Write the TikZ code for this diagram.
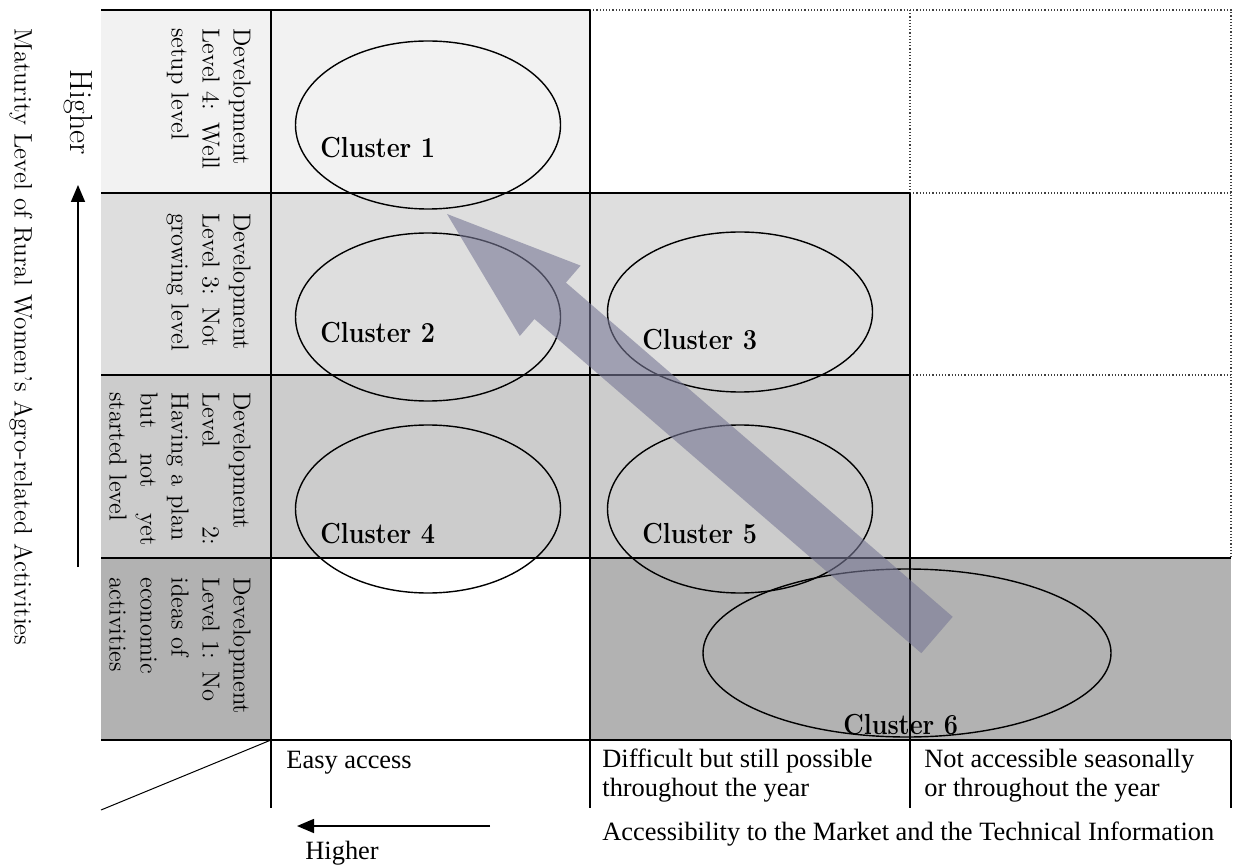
\documentclass[tikz,border=0pt]{standalone}
\usepackage{fontspec}
\newfontfamily\timesfont{Liberation Serif}
\usetikzlibrary{shapes.geometric,arrows.meta}
\definecolor{levelfour}{HTML}{F2F2F2}
\definecolor{levelthree}{HTML}{DEDEDE}
\definecolor{leveltwo}{HTML}{CCCCCC}
\definecolor{levelone}{HTML}{B2B2B2}
\definecolor{arrowfill}{RGB}{120,120,150}
\tikzset{
    gridline/.style={line width=1.2pt},
    dotline/.style={line width=0.6pt, densely dotted, black!75},
    cluster/.style={ellipse, draw, line width=0.7pt, inner sep=0pt, minimum width=132.5pt, minimum height=84pt},
    clusterlabel/.style={font=\bfseries\fontsize{14.5}{17}\selectfont, xscale=0.87, inner sep=0pt, anchor=base west},
    levellabel/.style={rotate=-90, anchor=north west, text width=76.5pt, align=left, inner sep=0pt, font=\fontsize{12.3}{15.5}\selectfont},
    headtext/.style={font=\timesfont\fontsize{13.2}{14.5}\selectfont, inner sep=0pt, align=left},
    axisarrow/.style={line width=0.8pt, -{Triangle[length=8.5pt,width=7pt]}},
    bigarrow/.style={fill=arrowfill, fill opacity=0.6},
}
\begin{document}
\begin{tikzpicture}[x=0.5pt,y=-0.5pt]
        \useasboundingbox (0,0) rectangle (1234,865);
        \fill[levelfour] (101,10) rectangle (590,193);
        \fill[levelthree] (101,193) rectangle (910,375);
        \fill[leveltwo] (101,375) rectangle (910,558);
        \fill[levelone] (101,558) rectangle (271,740);
        \fill[levelone] (590,558) rectangle (1231,740);
        \draw[dotline] (590,10) -- (1231,10) -- (1231,558);
        \draw[dotline] (910,10) -- (910,193);
        \foreach \y in {193,375} {
            \draw[dotline] (910,\y) -- (1231,\y);
            \draw[gridline] (101,\y) -- (910,\y);
        }
        \draw[gridline] (101,10) -- (590,10);
        \draw[gridline] (101,558) -- (1231,558);
        \draw[gridline] (101,740) -- (1231,740);
        \draw[gridline] (271,10) -- (271,808);
        \draw[gridline] (590,10) -- (590,808);
        \draw[gridline] (910,193) -- (910,808);
        \draw[gridline] (1231,740) -- (1231,808);
        \draw[line width=0.5pt] (271,740) -- (101,810);

        \node[cluster] (cl1) at (428,125) {};
        \node[cluster] (cl2) at (428,317) {};
        \node[cluster, minimum height=80pt] (cl3) at (740,312) {};
        \node[cluster] (cl4) at (428,509) {};
        \node[cluster] (cl5) at (740,509) {};
        \node[cluster, minimum width=204pt] (cl6) at (907,653) {};

        \fill[bigarrow] (952.7,616.8) -- (565.9,282.6) -- (580.6,265.6) -- (447,214)
            -- (519.8,336.0) -- (534.5,319.0) -- (921.3,653.2) -- cycle;

        \node[clusterlabel] (lab1) at (320,158) {Cluster 1};
        \node[clusterlabel] (lab2) at (320,343) {Cluster 2};
        \node[clusterlabel] (lab3) at (642,350) {Cluster 3};
        \node[clusterlabel] (lab4) at (320,543) {Cluster 4};
        \node[clusterlabel] (lab5) at (642,543) {Cluster 5};
        \node[clusterlabel] (lab6) at (843,734) {Cluster 6};

        \node[levellabel] (lv4) at (251,28) {Development\\Level 4: Well\\setup level};
        \node[levellabel] (lv3) at (251,213) {Development\\Level 3: Not\\growing level};
        \node[levellabel] (lv2) at (251,392) {Development\\Level\hfill 2:\\Having a plan\\but\hfill not\hfill yet\\started level};
        \node[levellabel] (lv1) at (251,577) {Development\\Level 1: No\\ideas of\\economic\\activities};

        \node[rotate=-90, inner sep=0pt, font=\fontsize{12.6}{15}\selectfont] (maturity) at (21,337) {Maturity Level of Rural Women’s Agro-related Activities};
        \node[rotate=-90, inner sep=0pt, font=\fontsize{16}{18}\selectfont] (vhigher) at (78,112) {Higher};
        \coordinate (vtail) at (78,567);
        \coordinate (vtip) at (78,185);
        \draw[axisarrow] (vtail) -- (vtip);

        \node[headtext, anchor=base west] (easy) at (286,768) {Easy access};
        \node[headtext, anchor=north west] (difficult) at (602,749) {Difficult but still possible\\throughout the year};
        \node[headtext, anchor=north west] (notacc) at (924,749) {Not accessible seasonally\\or throughout the year};
        \node[headtext, anchor=base west] (access) at (602,840) {Accessibility to the Market and the Technical Information};
        \coordinate (htail) at (490,826);
        \coordinate (htip) at (297,826);
        \draw[axisarrow] (htail) -- (htip);
        \node[headtext, anchor=base west] (hhigher) at (305,859) {Higher};
\end{tikzpicture}
\end{document}
